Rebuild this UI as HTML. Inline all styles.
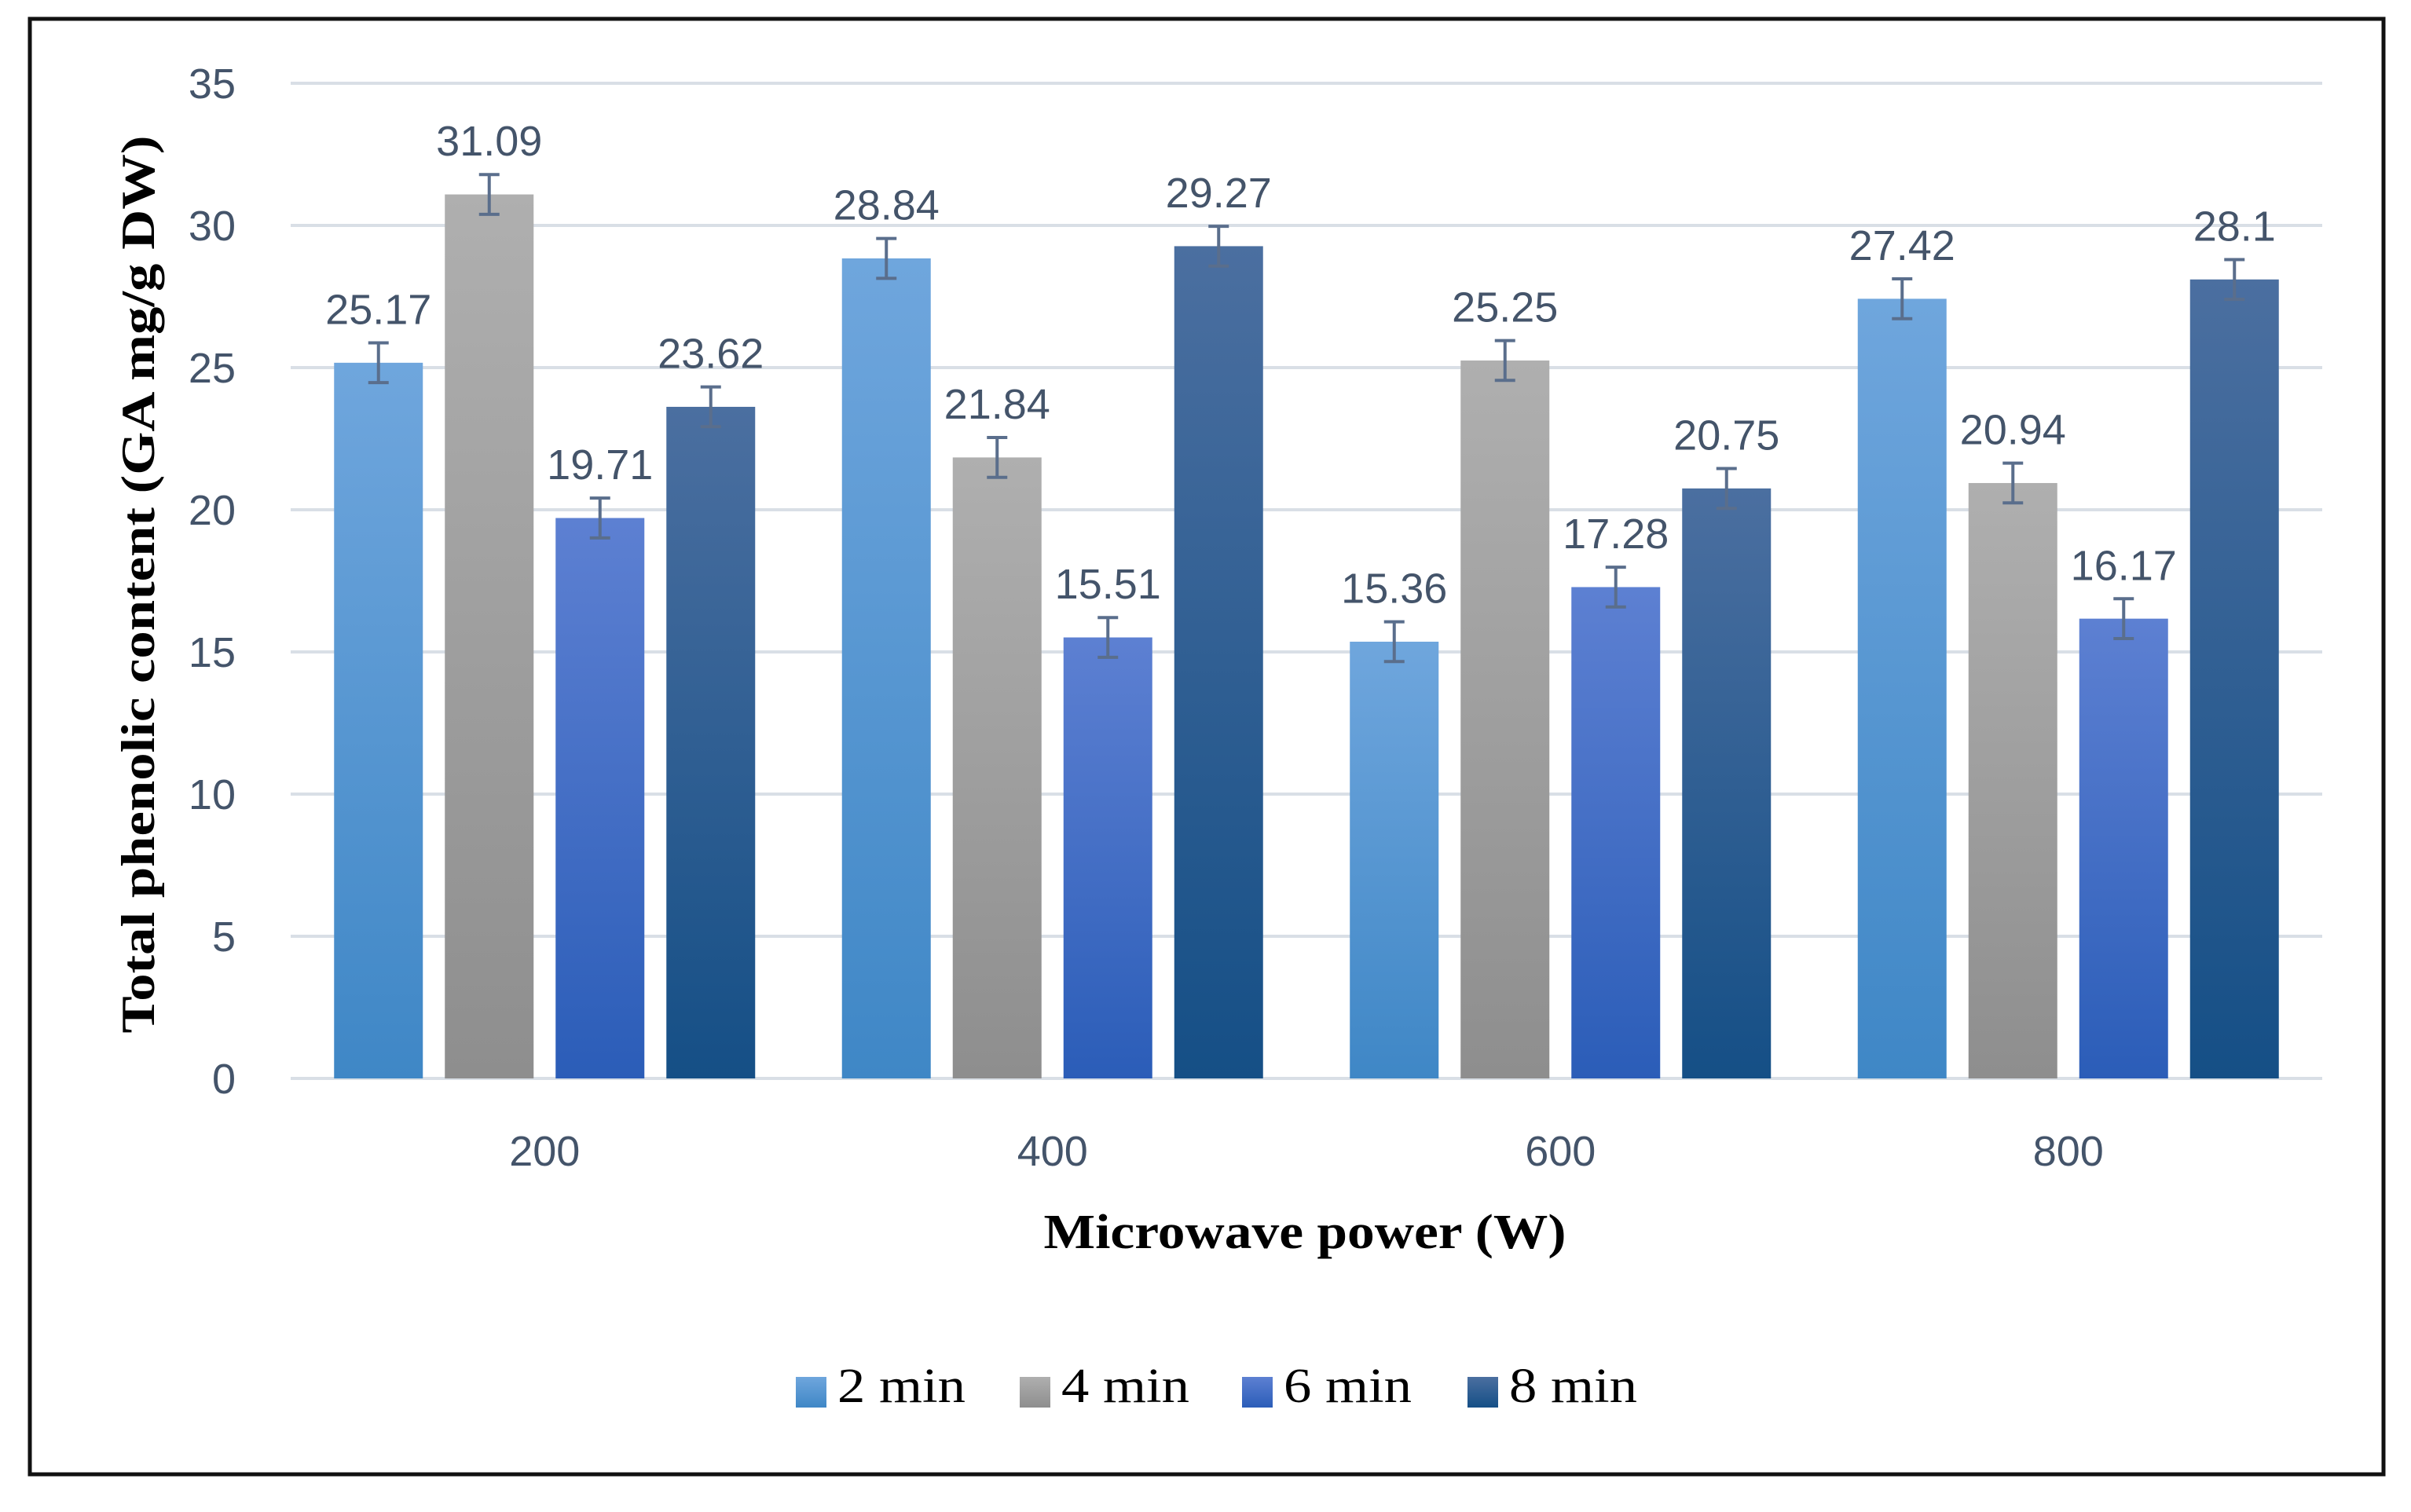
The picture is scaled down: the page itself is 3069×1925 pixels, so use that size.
<!DOCTYPE html>
<html><head><meta charset="utf-8"><style>
html,body{margin:0;padding:0;background:#fff;}
svg{display:block;}
.tick{font-family:"Liberation Sans",sans-serif;font-size:54px;fill:#44546a;}
.ser{font-family:"Liberation Serif",serif;font-weight:bold;fill:#000;}
</style></head><body>
<svg id="chart" width="3069" height="1925" viewBox="0 0 3069 1925" xmlns="http://www.w3.org/2000/svg">
<defs>
<linearGradient id="g0" x1="0" y1="0" x2="0" y2="1"><stop offset="0" stop-color="#6fa6dd"/><stop offset="1" stop-color="#3f87c6"/></linearGradient>
<linearGradient id="g1" x1="0" y1="0" x2="0" y2="1"><stop offset="0" stop-color="#afafaf"/><stop offset="1" stop-color="#8e8e8e"/></linearGradient>
<linearGradient id="g2" x1="0" y1="0" x2="0" y2="1"><stop offset="0" stop-color="#5d80d2"/><stop offset="1" stop-color="#2b5db8"/></linearGradient>
<linearGradient id="g3" x1="0" y1="0" x2="0" y2="1"><stop offset="0" stop-color="#4b6fa0"/><stop offset="1" stop-color="#154f86"/></linearGradient>
</defs>
<rect x="38" y="24" width="2996" height="1853" fill="none" stroke="#111" stroke-width="5"/>
<g id="grid"></g><g id="bars"></g><g id="labels"></g>
<text class="ser" x="1661" y="1589" font-size="62" text-anchor="middle" textLength="665" lengthAdjust="spacingAndGlyphs">Microwave power (W)</text>
<text class="ser" transform="translate(196,744) rotate(-90)" font-size="60" text-anchor="middle" textLength="1143" lengthAdjust="spacingAndGlyphs">Total phenolic content (GA mg/g DW)</text>
<g id="legend"></g>
</svg>
<script>
const categories = ["200","400","600","800"];
const seriesNames = ["2 min","4 min","6 min","8 min"];
const s2 = [25.17, 28.84, 15.36, 27.42];
const s4 = [31.09, 21.84, 25.25, 20.94];
const s6 = [19.71, 15.51, 17.28, 16.17];
const s8 = [23.62, 29.27, 20.75, 28.1];
const errors = [0.7, 0.7, 0.7, 0.7];
const yTicks = [0,5,10,15,20,25,30,35];

const NS="http://www.w3.org/2000/svg";
const series=[s2,s4,s6,s8];
const X0=370,X1=2956,Y0=1373,YTOP=106;
function y(v){return Y0-(v/35)*(Y0-YTOP);}
const catW=(X1-X0)/categories.length, barW=113, step=141;
function barX(c,s){return X0+catW*c+catW/2-2*step+ (step-barW)/2 + s*step;}
function mk(tag,attrs,parent){const e=document.createElementNS(NS,tag);for(const k in attrs)e.setAttribute(k,attrs[k]);parent.appendChild(e);return e;}
const grid=document.getElementById('grid'),bars=document.getElementById('bars'),labels=document.getElementById('labels'),legend=document.getElementById('legend');
yTicks.forEach(t=>{
  const l=mk('line',{x1:X0,x2:X1,y1:y(t),y2:y(t),stroke:'#d9dfe6','stroke-width':4},grid);
  
  
  const tx=mk('text',{x:300,y:y(t)+19,'text-anchor':'end',class:'tick'},grid);
  tx.textContent=t;
  
  
});
categories.forEach((c,ci)=>{
  const tx=mk('text',{x:X0+catW*ci+catW/2,y:1484,'text-anchor':'middle',class:'tick'},labels);
  tx.textContent=c;
  
  
  series.forEach((arr,si)=>{
    const v=arr[ci],bx=barX(ci,si);
    const r=mk('rect',{x:bx,y:y(v),width:barW,height:Y0-y(v),fill:'url(#g'+si+')'},bars);
    
    
    const cx=bx+barW/2,e=errors[si];
    const eb=mk('path',{d:`M${cx},${y(v+e)}V${y(v-e)}M${cx-13},${y(v+e)}H${cx+13}M${cx-13},${y(v-e)}H${cx+13}`,stroke:'#5a6e8c','stroke-width':4,fill:'none'},bars);
    
    
    const lt=mk('text',{x:cx,y:y(v+e)-24,'text-anchor':'middle',class:'tick'},labels);
    lt.textContent=v;
    
    
  });
});
const legX=[1013,1298,1581,1868];
seriesNames.forEach((n,i)=>{
  const g=mk('g',{},legend);
  
  
  mk('rect',{x:legX[i],y:1753,width:39,height:39,fill:'url(#g'+i+')'},g);
  const t=mk('text',{x:legX[i]+53,y:1785,class:'ser','font-size':62,'textLength':163,'lengthAdjust':'spacingAndGlyphs'},g);
  t.style.fontWeight='normal';
  t.textContent=n;
});
</script>
</body></html>
